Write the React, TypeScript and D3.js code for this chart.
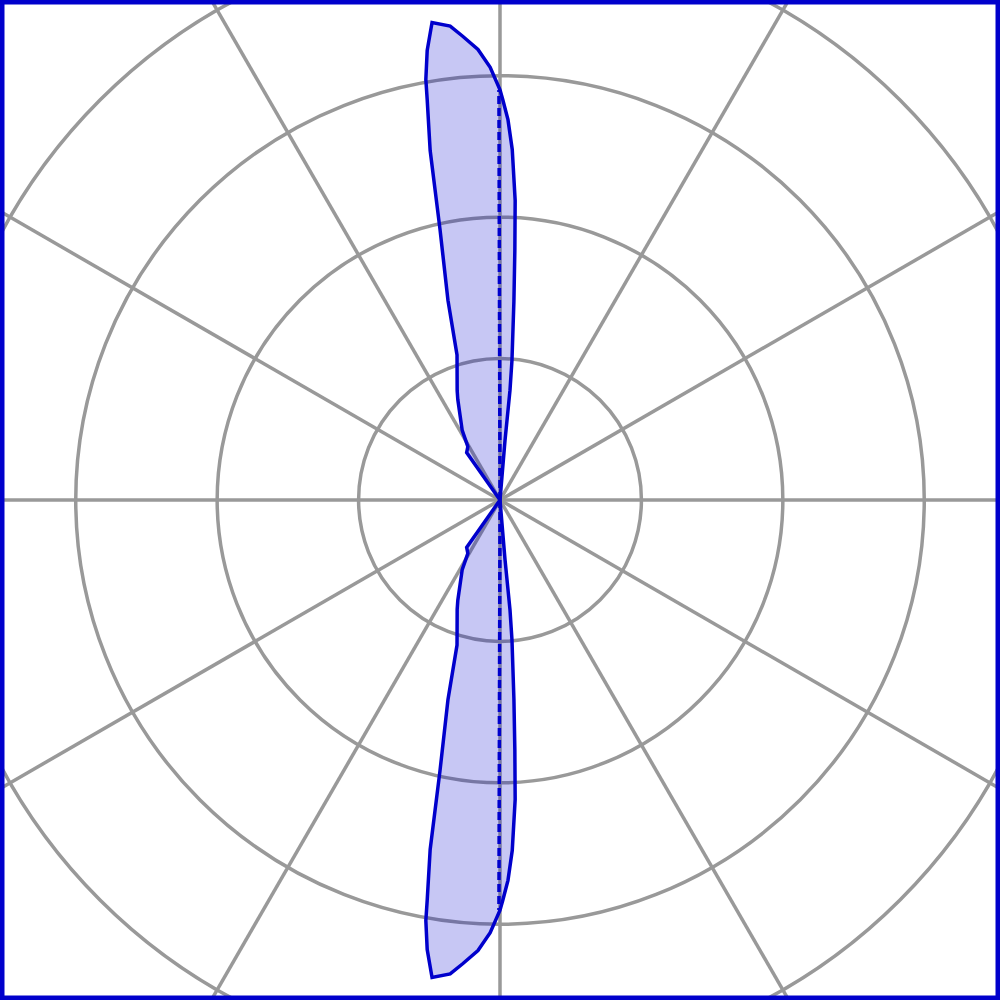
import React, { useEffect, useRef } from 'react';
import * as d3 from 'd3';

// Grid: rings and spokes
const ringValues = [1, 2, 3, 4, 5];
const spokeAngles = [0, 30, 60, 90, 120, 150, 180, 210, 240, 270, 300, 330];

// Upper lobe (angle in degrees clockwise from north, radius in ring units)
const upperAngles = [0, 4.8, 5.2, 4.9, 4.0, 3.4, 2.9, 2.0, 1.2, 0.4, 0, -1.3, -2.8, -4.6, -6.0, -8.1, -9.2, -10.0, -10.3, -11.3, -12.5, -14.6, -16.5, -21.4, -22.8, -28.5, -31.1, -35.1, 0];
const upperRadii = [0, 0.42, 0.78, 0.99, 1.41, 1.77, 2.12, 2.48, 2.69, 2.83, 2.9, 3.06, 3.19, 3.29, 3.37, 3.41, 3.22, 3.02, 2.88, 2.52, 1.96, 1.46, 1.07, 0.83, 0.77, 0.56, 0.44, 0.41, 0];

// Lower lobe
const lowerAngles = [180, 175.2, 174.8, 175.1, 176.0, 176.6, 177.1, 178.0, 178.8, 179.6, 180, 181.3, 182.8, 184.6, 186.0, 188.1, 189.2, 190.0, 190.3, 191.3, 192.5, 194.6, 196.5, 201.4, 202.8, 208.5, 211.1, 215.1, 180];
const lowerRadii = [0, 0.42, 0.78, 0.99, 1.41, 1.77, 2.12, 2.48, 2.69, 2.83, 2.9, 3.06, 3.19, 3.29, 3.37, 3.41, 3.22, 3.02, 2.88, 2.52, 1.96, 1.46, 1.07, 0.83, 0.77, 0.56, 0.44, 0.41, 0];

// Mean direction lines (dashed)
const meanAngles = [-0.15, 180.15];
const meanRadii = [2.9, 2.9];

const App: React.FC = () => {
  const chartRef = useRef<SVGSVGElement>(null);

  useEffect(() => {
    if (!chartRef.current) return;
    const root = d3.select(chartRef.current);
    root.selectAll("*").remove();

    const width = 1000;
    const height = 1000;
    const rad = (deg: number) => (deg * Math.PI) / 180;

    const r = d3.scaleLinear().domain([0, 5]).range([0, Math.hypot(width, height) / 2]);

    const g = root.append("g").attr("transform", `translate(${width / 2},${height / 2})`);

    // Cercles de la grille
    g.selectAll(".ring")
      .data(ringValues)
      .enter()
      .append("circle")
      .attr("class", "ring")
      .attr("r", d => r(d))
      .attr("fill", "none")
      .attr("stroke", "#999999")
      .attr("stroke-width", 3.5);

    // Rayons
    g.selectAll(".spoke")
      .data(spokeAngles)
      .enter()
      .append("line")
      .attr("class", "spoke")
      .attr("x1", 0)
      .attr("y1", 0)
      .attr("x2", d => r(5) * Math.sin(rad(d)))
      .attr("y2", d => -r(5) * Math.cos(rad(d)))
      .attr("stroke", "#999999")
      .attr("stroke-width", 3.5);

    const line = d3.lineRadial<[number, number]>()
      .angle(d => rad(d[0]))
      .radius(d => r(d[1]))
      .curve(d3.curveLinear);

    const upper = upperAngles.map((a, i) => [a, upperRadii[i]] as [number, number]);
    const lower = lowerAngles.map((a, i) => [a, lowerRadii[i]] as [number, number]);
    const shape = (line(upper) || "") + (line(lower) || "");

    g.append("path")
      .attr("d", shape)
      .attr("fill", "#0000cc")
      .attr("fill-opacity", 0.22)
      .attr("stroke", "none");

    g.append("path")
      .attr("d", shape)
      .attr("fill", "none")
      .attr("stroke", "#0000cc")
      .attr("stroke-width", 3.5)
      .attr("stroke-linejoin", "miter");

    // Lignes pointillées
    g.selectAll(".mean")
      .data(meanAngles)
      .enter()
      .append("line")
      .attr("class", "mean")
      .attr("x1", 0)
      .attr("y1", 0)
      .attr("x2", (d, i) => r(meanRadii[i]) * Math.sin(rad(d)))
      .attr("y2", (d, i) => -r(meanRadii[i]) * Math.cos(rad(d)))
      .attr("stroke", "#0000cc")
      .attr("stroke-width", 3.5)
      .attr("stroke-dasharray", "8,4");

    // Cadre
    root.append("rect")
      .attr("x", 0)
      .attr("y", 0)
      .attr("width", width)
      .attr("height", height)
      .attr("fill", "none")
      .attr("stroke", "#0000cc")
      .attr("stroke-width", 9);
  }, []);

  return (
    <svg
      ref={chartRef}
      width={1000}
      height={1000}
      style={{ position: "absolute", top: 0, left: 0, background: "#ffffff" }}
    />
  );
};

export default App;
